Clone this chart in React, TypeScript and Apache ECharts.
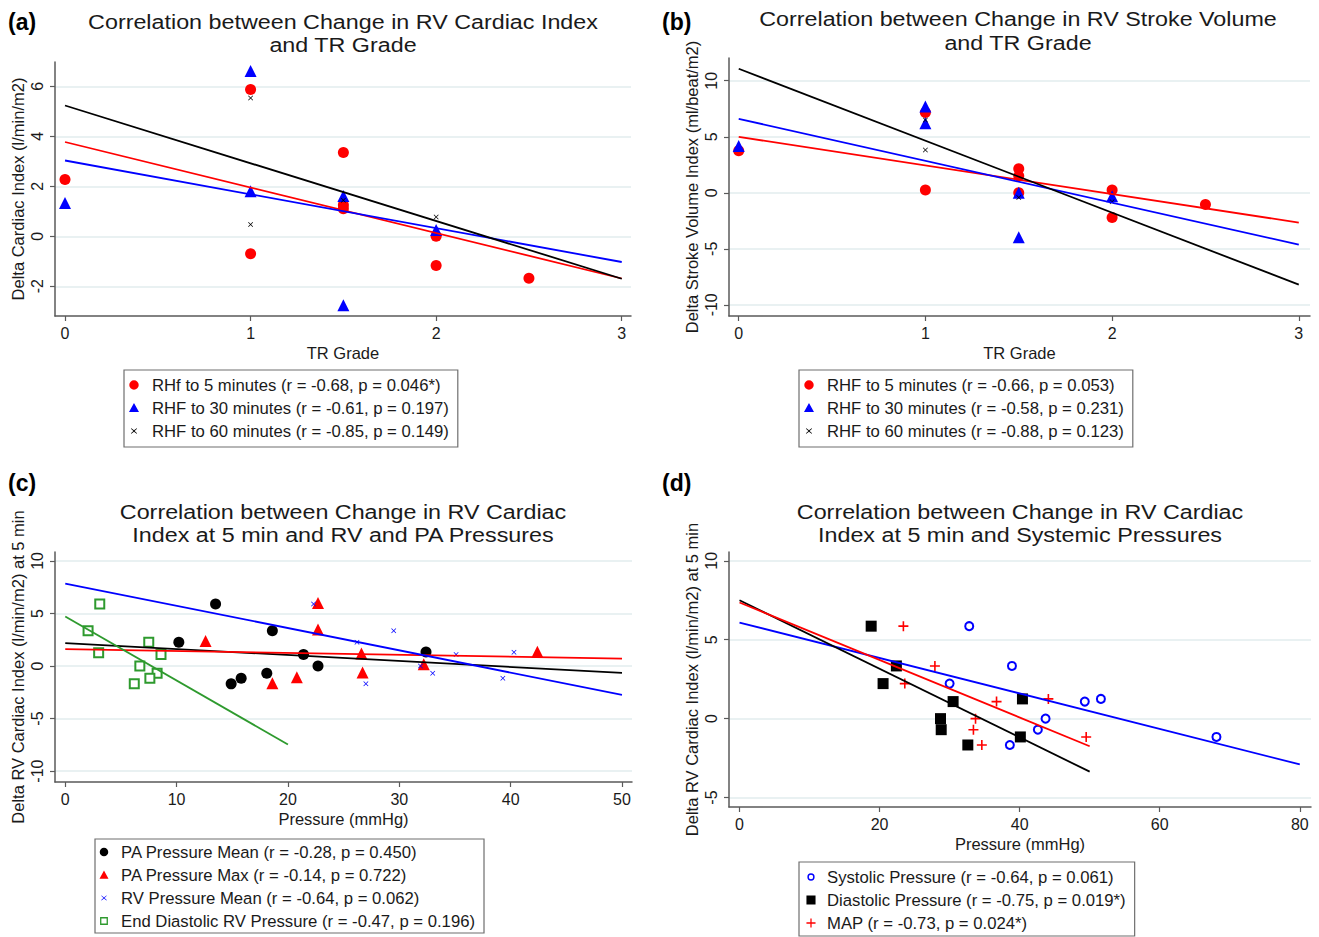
import React, { useEffect, useRef } from 'react';
import * as echarts from 'echarts';

const FONT = 'Arial, "Liberation Sans", Helvetica, sans-serif';
const TXT = '#1a1a1a';
const AXIS = '#5a5a5a';
const GRIDC = '#e2ecee';
const RED = '#ff0000';
const BLUE = '#0000ff';
const BLACK = '#000000';
const GREEN = '#2e9a2e';

// ---------- Panel (a): Delta Cardiac Index vs TR Grade ----------
const aTitle = ['Correlation between Change in RV Cardiac Index', 'and TR Grade'];
const aXTicks = [0, 1, 2, 3];
const aYTicks = [-2, 0, 2, 4, 6];
const aNames = [
  'RHf to 5 minutes (r = -0.68, p = 0.046*)',
  'RHF to 30 minutes (r = -0.61, p = 0.197)',
  'RHF to 60 minutes (r = -0.85, p = 0.149)',
];
const aRHF5 = [[0, 2.27], [1, 5.87], [1, -0.7], [1.5, 3.35], [1.5, 1.25], [1.5, 1.1], [2, 0], [2, -1.17], [2.5, -1.68]];
const aRHF30 = [[0, 1.33], [1, 6.61], [1, 1.8], [1.5, 1.61], [1.5, -2.76], [2, 0.25]];
const aRHF60 = [[1, 5.53], [1, 0.47], [1.5, 1.44], [2, 0.77]];
const aFit5 = [[0, 3.77], [3, -1.69]];
const aFit30 = [[0, 3.03], [3, -1.03]];
const aFit60 = [[0, 5.23], [3, -1.7]];

// ---------- Panel (b): Delta Stroke Volume Index vs TR Grade ----------
const bTitle = ['Correlation between Change in RV Stroke Volume', 'and TR Grade'];
const bXTicks = [0, 1, 2, 3];
const bYTicks = [-10, -5, 0, 5, 10];
const bNames = [
  'RHF to 5 minutes (r = -0.66, p = 0.053)',
  'RHF to 30 minutes (r = -0.58, p = 0.231)',
  'RHF to 60 minutes (r = -0.88, p = 0.123)',
];
const bRHF5 = [[0, 3.76], [1, 7.16], [1, 0.24], [1.5, 2.15], [1.5, 1.49], [1.5, 0], [2, 0.24], [2, -2.2], [2.5, -1.04]];
const bRHF30 = [[0, 4.18], [1, 7.7], [1, 6.2], [1.5, 0], [1.5, -3.97], [2, -0.3]];
const bRHF60 = [[1, 3.82], [1, 6.5], [1.5, -0.42], [2, -0.8]];
const bFit5 = [[0, 4.99], [3, -2.66]];
const bFit30 = [[0, 6.6], [3, -4.63]];
const bFit60 = [[0, 11.07], [3, -8.2]];

// ---------- Panel (c): RV Cardiac Index at 5 min vs RV & PA pressures ----------
const cTitle = ['Correlation between Change in RV Cardiac', 'Index at 5 min and RV and PA Pressures'];
const cXTicks = [0, 10, 20, 30, 40, 50];
const cYTicks = [-10, -5, 0, 5, 10];
const cNames = [
  'PA Pressure Mean (r = -0.28, p = 0.450)',
  'PA Pressure Max (r = -0.14, p = 0.722)',
  'RV Pressure Mean (r = -0.64, p = 0.062)',
  'End Diastolic RV Pressure (r = -0.47, p = 0.196)',
];
const cPAMean = [[13.5, 5.9], [10.2, 2.25], [18.6, 3.35], [14.9, -1.7], [15.8, -1.17], [18.1, -0.7], [21.4, 1.1], [22.7, 0], [32.4, 1.33]];
const cPAMax = [[12.6, 2.37], [22.7, 6.0], [22.7, 3.48], [18.6, -1.65], [20.8, -1.08], [26.6, 1.2], [26.7, -0.63], [32.2, 0.16], [42.4, 1.36]];
const cRVMean = [[22.3, 5.9], [26.2, 2.25], [29.5, 3.35], [27.0, -1.7], [31.9, 0], [33.0, -0.7], [35.1, 1.1], [39.3, -1.17], [40.3, 1.3]];
const cEDRV = [[3.1, 5.9], [2.05, 3.35], [7.5, 2.25], [3.0, 1.27], [8.6, 1.1], [6.7, 0], [8.25, -0.7], [7.6, -1.17], [6.2, -1.7]];
const cFitPAMean = [[0, 2.18], [50, -0.66]];
const cFitPAMax = [[0, 1.61], [50, 0.7]];
const cFitRVMean = [[0, 7.85], [50, -2.75]];
const cFitEDRV = [[0, 4.72], [20, -7.47]];

// ---------- Panel (d): RV Cardiac Index at 5 min vs systemic pressures ----------
const dTitle = ['Correlation between Change in RV Cardiac', 'Index at 5 min and Systemic Pressures'];
const dXTicks = [0, 20, 40, 60, 80];
const dYTicks = [-5, 0, 5, 10];
const dNames = [
  'Systolic Pressure (r = -0.64, p = 0.061)',
  'Diastolic Pressure (r = -0.75, p = 0.019*)',
  'MAP (r = -0.73, p = 0.024*)',
];
const dSys = [[32.8, 5.86], [38.9, 3.34], [30.0, 2.22], [49.3, 1.08], [51.6, 1.25], [43.7, 0], [42.6, -0.7], [38.6, -1.67], [68.1, -1.16]];
const dDia = [[18.8, 5.86], [22.4, 3.34], [20.5, 2.22], [30.5, 1.08], [40.4, 1.25], [28.7, 0], [28.8, -0.7], [32.6, -1.67], [40.1, -1.16]];
const dMAP = [[23.4, 5.86], [27.9, 3.34], [23.6, 2.22], [36.7, 1.08], [44.1, 1.25], [33.7, 0], [33.4, -0.7], [34.6, -1.67], [49.5, -1.16]];
const dFitSys = [[0, 6.09], [80, -2.9]];
const dFitDia = [[0, 7.5], [50, -3.36]];
const dFitMAP = [[0, 7.36], [50, -1.75]];

const BOX = 'M0,0L0.01,0L0,0.01Z M22,22L22.01,22L22,22.01Z ';
const X_SYM = 'path://M1,0L5,4L9,0L10,1L6,5L10,9L9,10L5,6L1,10L0,9L4,5L0,1Z';
const X_SYM_LEG = 'path://' + BOX + 'M8,8L11,10.3L14,8L14.4,8.4L11.6,11L14.4,13.6L14,14L11,11.7L8,14L7.6,13.6L10.4,11L7.6,8.4Z';
const CIRC_LEG = 'path://' + BOX + 'M11,5.8A5.2,5.2 0 1,1 11,16.2A5.2,5.2 0 1,1 11,5.8Z';
const EMPTY_CIRC_LEG = 'path://' + BOX + 'M11,7A4,4 0 1,1 11,15A4,4 0 1,1 11,7Z M11,8.6A2.4,2.4 0 1,0 11,13.4A2.4,2.4 0 1,0 11,8.6Z';
const TRI_LEG = 'path://' + BOX + 'M11,5.5L16.5,15.5L5.5,15.5Z';
const RECT_LEG = 'path://' + BOX + 'M6,6H16V16H6Z';
const EMPTY_RECT_LEG = 'path://' + BOX + 'M6.2,6.2H15.8V15.8H6.2Z M7.8,7.8V14.2H14.2V7.8Z';
const PLUS_SYM = 'path://M4.2,0H5.8V4.2H10V5.8H5.8V10H4.2V5.8H0V4.2H4.2Z';
const PLUS_LEG = 'path://' + BOX + 'M10.3,6H11.7V10.3H16V11.7H11.7V16H10.3V11.7H6V10.3H10.3Z';

function xAx(gi: number, min: number, max: number, ticks: number[], name: string) {
  return {
    type: 'value', gridIndex: gi, min, max, name,
    nameLocation: 'middle', nameGap: 28,
    nameTextStyle: { fontSize: 16.5, color: TXT, fontFamily: FONT },
    axisLine: { show: true, onZero: false, lineStyle: { color: AXIS, width: 1.5 } },
    axisTick: { show: true, length: 5, customValues: ticks, lineStyle: { color: AXIS, width: 1.2 } },
    axisLabel: { customValues: ticks, fontSize: 16, color: TXT, fontFamily: FONT, margin: 9 },
    splitLine: { show: false },
  };
}
function yAx(gi: number, min: number, max: number, ticks: number[], name: string) {
  return {
    type: 'value', gridIndex: gi, min, max, name,
    nameLocation: 'middle', nameGap: 29, nameRotate: 90,
    nameTextStyle: { fontSize: 16.5, color: TXT, fontFamily: FONT },
    axisLine: { show: true, onZero: false, lineStyle: { color: AXIS, width: 1.5 } },
    axisTick: { show: true, length: 5, customValues: ticks, lineStyle: { color: AXIS, width: 1.2 } },
    axisLabel: { customValues: ticks, fontSize: 16, color: TXT, fontFamily: FONT, rotate: 90, margin: 10 },
    splitLine: { show: true, lineStyle: { color: GRIDC, width: 1.5 } },
  };
}
function sc(name: string, data: number[][], gi: number, symbol: string, size: number, color: string, extra: any = {}) {
  return {
    type: 'scatter', name, data, xAxisIndex: gi, yAxisIndex: gi, symbol, symbolSize: size,
    symbolKeepAspect: true,
    itemStyle: { color, opacity: 1, ...extra },
    emphasis: { disabled: true }, z: 2,
  };
}
function fit(data: number[][], gi: number, color: string) {
  return {
    type: 'line', data, xAxisIndex: gi, yAxisIndex: gi, showSymbol: false, symbol: 'none',
    lineStyle: { color, width: 1.8 }, silent: true, z: 3, emphasis: { disabled: true },
  };
}
function leg(names: any[], left: number, top: number, padLeft: number, textPad: number,
  padTop = 5, padBottom = 6, itemH = 20, gap = 3) {
  return {
    data: names, left, top, orient: 'vertical',
    borderColor: '#6f6f6f', borderWidth: 1.2, borderRadius: 0,
    padding: [padTop, 9, padBottom, padLeft], itemGap: gap, itemWidth: 20, itemHeight: itemH,
    textStyle: { fontSize: 16.7, color: TXT, fontFamily: FONT, lineHeight: 17, padding: [0, 0, 0, textPad] },
    selectedMode: false, backgroundColor: '#fff',
  };
}
function titleTexts(lines: string[], cx: number, y1: number, y2: number, label: string, lx: number, ly: number) {
  const st = (t: string) => ({ text: t, textAlign: 'center', textVerticalAlign: 'middle', font: `21px ${FONT}`, fill: TXT });
  return [
    { type: 'text', x: cx, y: y1, scaleX: 1.11, style: st(lines[0]) },
    { type: 'text', x: cx, y: y2, scaleX: 1.11, style: st(lines[1]) },
    { type: 'text', x: lx, y: ly, style: { text: label, textAlign: 'left', textVerticalAlign: 'middle', font: `bold 23px ${FONT}`, fill: '#000' } },
  ];
}

export default function App() {
  const ref = useRef<HTMLDivElement>(null);
  useEffect(() => {
    if (!ref.current) return;
    const chart = echarts.init(ref.current, null, { renderer: 'svg' });
    const option: any = {
      animation: false,
      backgroundColor: '#ffffff',
      grid: [
        { left: 55, top: 62, width: 576, height: 254 },
        { left: 729, top: 58, width: 581, height: 258 },
        { left: 55, top: 552, width: 577, height: 230 },
        { left: 729, top: 552, width: 582, height: 255 },
      ],
      xAxis: [
        xAx(0, -0.054, 3.05, aXTicks, 'TR Grade'),
        xAx(1, -0.052, 3.06, bXTicks, 'TR Grade'),
        xAx(2, -0.92, 50.9, cXTicks, 'Pressure (mmHg)'),
        xAx(3, -1.5, 81.6, dXTicks, 'Pressure (mmHg)'),
      ],
      yAxis: [
        yAx(0, -3.19, 6.97, aYTicks, 'Delta Cardiac Index (l/min/m2)'),
        yAx(1, -11.0, 12.03, bYTicks, 'Delta Stroke Volume Index (ml/beat/m2)'),
        yAx(2, -11.04, 10.85, cYTicks, 'Delta RV Cardiac Index (l/min/m2) at 5 min'),
        yAx(3, -5.6, 10.56, dYTicks, 'Delta RV Cardiac Index (l/min/m2) at 5 min'),
      ],
      legend: [
        leg([{ name: aNames[0], icon: CIRC_LEG }, { name: aNames[1], icon: TRI_LEG }, { name: aNames[2], icon: X_SYM_LEG }], 124, 370, 0, 3),
        leg([{ name: bNames[0], icon: CIRC_LEG }, { name: bNames[1], icon: TRI_LEG }, { name: bNames[2], icon: X_SYM_LEG }], 799, 370, 0, 3),
        leg([{ name: cNames[0], icon: CIRC_LEG }, { name: cNames[1], icon: TRI_LEG }, { name: cNames[2], icon: X_SYM_LEG }, { name: cNames[3], icon: EMPTY_RECT_LEG }], 95, 839, 0, 2, 4, 3, 18, 5),
        leg([{ name: dNames[0], icon: EMPTY_CIRC_LEG }, { name: dNames[1], icon: RECT_LEG }, { name: dNames[2], icon: PLUS_LEG }], 799, 862, 2, 1, 5, 3),
      ],
      graphic: [
        ...titleTexts(aTitle, 343, 22, 45, '(a)', 8, 22),
        ...titleTexts(bTitle, 1018, 19, 43, '(b)', 662, 22),
        ...titleTexts(cTitle, 343, 512, 535, '(c)', 8, 483),
        ...titleTexts(dTitle, 1020, 512, 535, '(d)', 662, 483),
      ],
      series: [
        // (a)
        sc(aNames[0], aRHF5, 0, 'circle', 11, RED),
        sc(aNames[1], aRHF30, 0, 'triangle', 12, BLUE),
        sc(aNames[2], aRHF60, 0, X_SYM, 5, BLACK),
        fit(aFit5, 0, RED), fit(aFit30, 0, BLUE), fit(aFit60, 0, BLACK),
        // (b)
        sc(bNames[0], bRHF5, 1, 'circle', 11, RED),
        sc(bNames[1], bRHF30, 1, 'triangle', 12, BLUE),
        sc(bNames[2], bRHF60, 1, X_SYM, 5, BLACK),
        fit(bFit5, 1, RED), fit(bFit30, 1, BLUE), fit(bFit60, 1, BLACK),
        // (c)
        sc(cNames[0], cPAMean, 2, 'circle', 11, BLACK),
        sc(cNames[1], cPAMax, 2, 'triangle', 12, RED),
        sc(cNames[2], cRVMean, 2, X_SYM, 5, BLUE),
        sc(cNames[3], cEDRV, 2, 'emptyRect', 9, GREEN, { borderWidth: 1.6 }),
        fit(cFitPAMean, 2, BLACK), fit(cFitPAMax, 2, RED), fit(cFitRVMean, 2, BLUE), fit(cFitEDRV, 2, GREEN),
        // (d)
        sc(dNames[0], dSys, 3, 'emptyCircle', 8, BLUE, { borderWidth: 1.6 }),
        sc(dNames[1], dDia, 3, 'rect', 11, BLACK),
        sc(dNames[2], dMAP, 3, PLUS_SYM, 10, RED),
        fit(dFitSys, 3, BLUE), fit(dFitDia, 3, BLACK), fit(dFitMAP, 3, RED),
      ],
    };
    chart.setOption(option);
    return () => chart.dispose();
  }, []);
  return (
    <div
      ref={ref}
      style={{ position: 'absolute', left: 0, top: 0, width: 1319, height: 937, background: '#fff' }}
    />
  );
}
